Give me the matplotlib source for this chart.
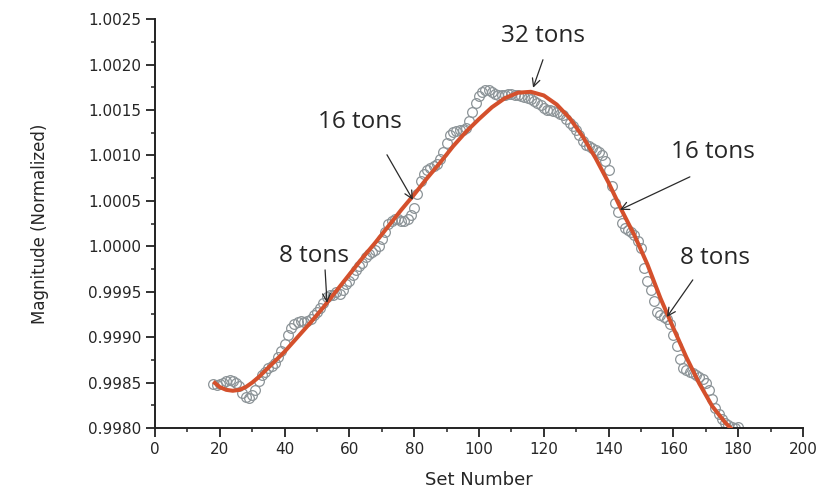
import numpy as np
import matplotlib
matplotlib.use("Agg")
import matplotlib.pyplot as plt
from matplotlib.ticker import MultipleLocator, FormatStrFormatter

# measured data (open circles), one per set number starting at 18
scatter_y = [
    0.99848, 0.99847, 0.99848, 0.99850,
    0.99852, 0.99853, 0.99852, 0.99850, 0.99846,
    0.99838, 0.99834, 0.99833, 0.99836, 0.99842,
    0.99852, 0.99858, 0.99862, 0.99866, 0.99868, 0.99872, 0.99878, 0.99885,
    0.99893, 0.99902, 0.99910, 0.99915, 0.99917, 0.99918, 0.99917, 0.99918,
    0.99920, 0.99924, 0.99928, 0.99932, 0.99938,
    0.99944, 0.99946, 0.99946,
    0.99950, 0.99948, 0.99952, 0.99958, 0.99962,
    0.99968, 0.99974, 0.99978, 0.99982, 0.99988, 0.99992,
    0.99994, 0.99996, 1.00000, 1.00008, 1.00016, 1.00024,
    1.00028, 1.00030, 1.00030, 1.00028,
    1.00028, 1.00030, 1.00034, 1.00042,
    1.00058, 1.00072, 1.00080, 1.00084, 1.00086, 1.00088,
    1.00090, 1.00096, 1.00104, 1.00114, 1.00122, 1.00126,
    1.00127, 1.00128, 1.00128, 1.00130, 1.00138, 1.00148,
    1.00158, 1.00165, 1.00170, 1.00172, 1.00172, 1.00170, 1.00168,
    1.00166, 1.00166, 1.00167, 1.00168, 1.00168, 1.00167, 1.00166, 1.00165, 1.00164, 1.00163,
    1.00162, 1.00160, 1.00158, 1.00155, 1.00152, 1.00150, 1.00150, 1.00149, 1.00148, 1.00146,
    1.00144, 1.00140, 1.00136, 1.00132, 1.00128, 1.00122, 1.00116,
    1.00112, 1.00110, 1.00108, 1.00106, 1.00104, 1.00100, 1.00094,
    1.00084, 1.00066, 1.00048, 1.00038, 1.00026, 1.00020,
    1.00018, 1.00016, 1.00012, 1.00006, 0.99998, 0.99976,
    0.99962, 0.99952, 0.99940, 0.99928, 0.99924, 0.99922,
    0.99920, 0.99914, 0.99902, 0.99890, 0.99876, 0.99866,
    0.99864, 0.99862, 0.99860, 0.99858, 0.99856, 0.99854,
    0.99850, 0.99842, 0.99832, 0.99822, 0.99815, 0.99810,
    0.99806, 0.99803, 0.99801, 0.99800, 0.99801,
]
scatter_x = list(range(18, 18 + len(scatter_y)))

# fitted curve (red)
fit_x = [18, 20, 22, 24, 26, 28, 30, 32, 34, 36, 38, 40, 44, 48, 52, 56, 60, 64, 68,
         72, 76, 80, 84, 88, 92, 96, 100, 104, 108, 112, 116, 120, 124, 128, 132,
         136, 140, 144, 148, 152, 156, 160, 164, 168, 172, 176, 178.5]
fit_y = [0.99851, 0.99845, 0.99842, 0.99841, 0.99842, 0.99845, 0.99850, 0.99856,
         0.99863, 0.99870, 0.99877, 0.99884, 0.99900, 0.99916, 0.99933, 0.99951,
         0.99969, 0.99987, 1.00004, 1.00022, 1.00040, 1.00057, 1.00075, 1.00092,
         1.00110, 1.00126, 1.00140, 1.00153, 1.00163, 1.00169, 1.00170, 1.00166,
         1.00156, 1.00141, 1.00121, 1.00097, 1.00070, 1.00040, 1.00012, 0.99980,
         0.99943, 0.99910, 0.99878, 0.99849, 0.99824, 0.99806, 0.99797]

# annotations: label, text position, arrow start, arrow tip
ann_labels = ["32 tons", "16 tons", "16 tons", "8 tons", "8 tons"]
ann_text_xy = [(119.75, 1.002317), (63.3, 1.001370), (172.2, 1.001040),
               (49.1, 0.999894), (172.8, 0.999872)]
ann_start_xy = [(119.75, 1.002053), (71.6, 1.001007), (165.1, 1.000764),
                (52.5, 0.999740), (166.0, 0.999630)]
ann_tip_xy = [(116.7, 1.001744), (79.6, 1.000511), (143.5, 1.000401),
              (53.1, 0.999377), (158.0, 0.999222)]

fig = plt.figure(figsize=(8.21, 4.90), dpi=100)
ax = fig.add_axes([0.1888, 0.1265, 0.978 - 0.1888, 0.961 - 0.1265])

ax.plot(scatter_x, scatter_y, linestyle='none', marker='o', markersize=7,
        markerfacecolor='none', markeredgecolor='#8c9498', markeredgewidth=0.9, zorder=2)
ax.plot(fit_x, fit_y, color='#d4502c', linewidth=2.9, zorder=3, solid_capstyle='butt')

for lab, txy, sxy, pxy in zip(ann_labels, ann_text_xy, ann_start_xy, ann_tip_xy):
    ax.annotate('', xy=pxy, xytext=sxy,
                arrowprops=dict(arrowstyle='->', color='#2a2a2a', lw=0.9,
                                shrinkA=0, shrinkB=0, mutation_scale=14),
                zorder=4)
    ax.text(txy[0], txy[1], lab, ha='center', va='center', fontsize=17.5,
            family=['Open Sans', 'DejaVu Sans'], color='#262626', zorder=5)

ax.set_xlim(0, 200)
ax.set_ylim(0.9980, 1.0025)
ax.xaxis.set_major_locator(MultipleLocator(20))
ax.xaxis.set_minor_locator(MultipleLocator(10))
ax.yaxis.set_major_locator(MultipleLocator(0.0005))
ax.yaxis.set_minor_locator(MultipleLocator(0.00025))
ax.yaxis.set_major_formatter(FormatStrFormatter('%.4f'))

for s in ['top', 'right']:
    ax.spines[s].set_visible(False)
for s in ['left', 'bottom']:
    ax.spines[s].set_linewidth(1.4)
    ax.spines[s].set_color('#222222')

ax.tick_params(which='major', direction='out', length=6.5, width=1.3, colors='#222222',
               labelsize=11, pad=3.5)
ax.tick_params(which='minor', direction='out', length=3.2, width=1.1, colors='#222222')
for lbl in ax.get_xticklabels() + ax.get_yticklabels():
    lbl.set_family(['DejaVu Sans'])
    lbl.set_color('#262626')

ax.set_xlabel('Set Number', fontsize=13, family=['DejaVu Sans'],
              color='#262626', labelpad=10)
ax.set_ylabel('Magnitude (Normalized)', fontsize=12, family=['DejaVu Sans'],
              color='#262626', labelpad=28)

fig.savefig('out.png', dpi=100)
